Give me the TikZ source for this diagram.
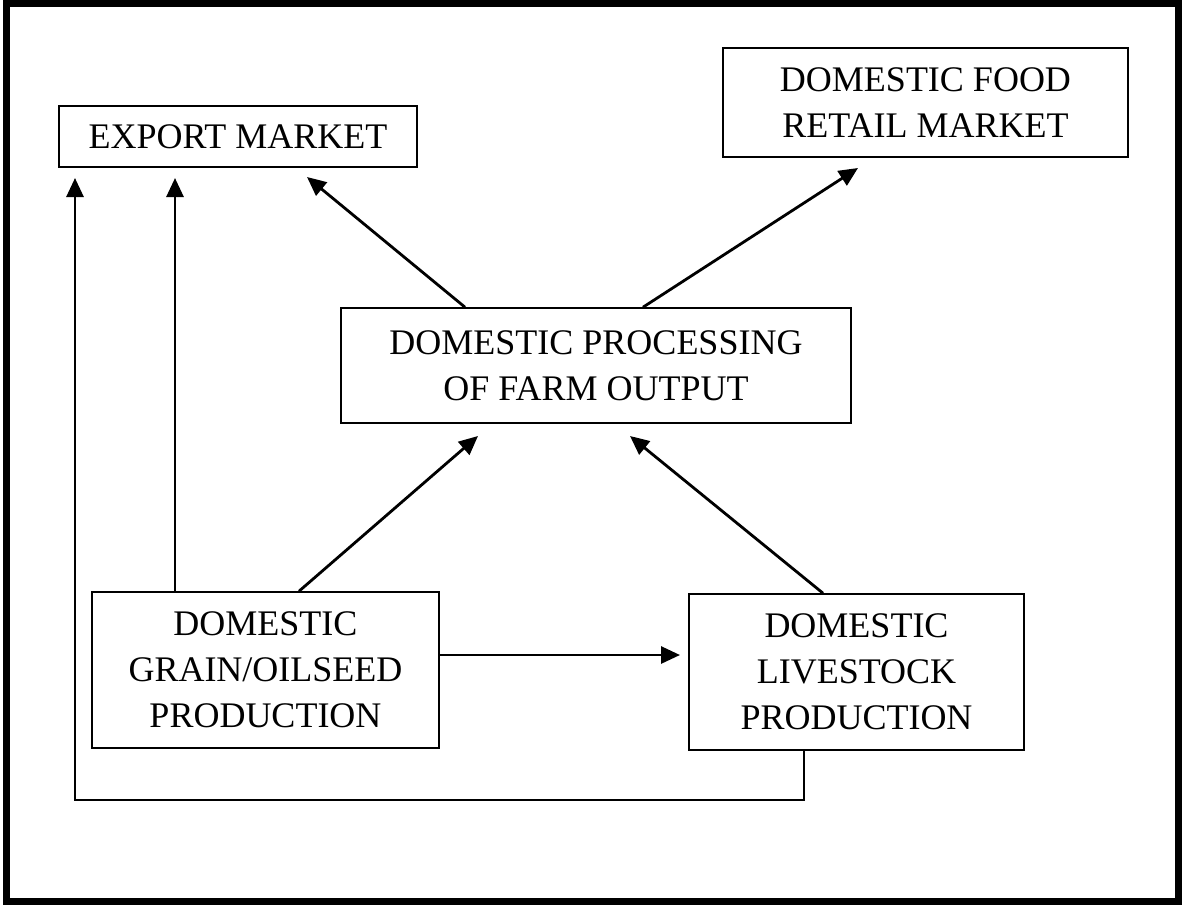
\documentclass[tikz,border=0pt]{standalone}
\usepackage{fontspec}
\setmainfont{Liberation Serif}
\usetikzlibrary{arrows.meta}
\tikzset{
  box/.style={draw, line width=1.6pt, inner sep=0pt, align=center,
    font=\fontsize{36}{46}\selectfont},
  arr/.style={line width=2.8pt, -{Triangle[length=19pt,width=17pt]}},
}
\begin{document}
\begin{tikzpicture}[x=1pt,y=-1pt]
\useasboundingbox (0,0) rectangle (1185,906);
\draw[line width=7pt] (6,3.5) rectangle (1178.5,901.5);
\node[box, minimum width=358pt, minimum height=61pt] (exp) at (238,136.5) {EXPORT MARKET};
\node[box, minimum width=405pt, minimum height=109pt] (ret) at (925.5,102.5) {DOMESTIC FOOD\\RETAIL MARKET};
\node[box, minimum width=510pt, minimum height=115pt] (proc) at (596,365.5) {DOMESTIC PROCESSING\\OF FARM OUTPUT};
\node[box, minimum width=347pt, minimum height=156pt] (grain) at (265.5,670) {DOMESTIC\\GRAIN/OILSEED\\PRODUCTION};
\node[box, minimum width=335pt, minimum height=156pt] (live) at (856.5,672) {DOMESTIC\\LIVESTOCK\\PRODUCTION};
% free ends
\coordinate (lc) at (75,800);
\coordinate (lt) at (75,178);
\coordinate (gt) at (175,178);
\coordinate (pe) at (307,177);
\coordinate (pr) at (858,168);
\coordinate (gp) at (478,436);
\coordinate (lp) at (630,436);
\coordinate (hl) at (680,655);
% connectors
\draw[arr] ([xshift=-52.5pt]live.south) |- (lc) -- (lt);
\draw[arr] (grain.north -| gt) -- (gt);
\draw[arr] ([xshift=-131pt]proc.north) -- (pe);
\draw[arr] ([xshift=47pt]proc.north) -- (pr);
\draw[arr] ([xshift=33.5pt]grain.north) -- (gp);
\draw[arr] ([xshift=-33.5pt]live.north) -- (lp);
\draw[arr] (grain.east |- hl) -- (hl);
\end{tikzpicture}
\end{document}
